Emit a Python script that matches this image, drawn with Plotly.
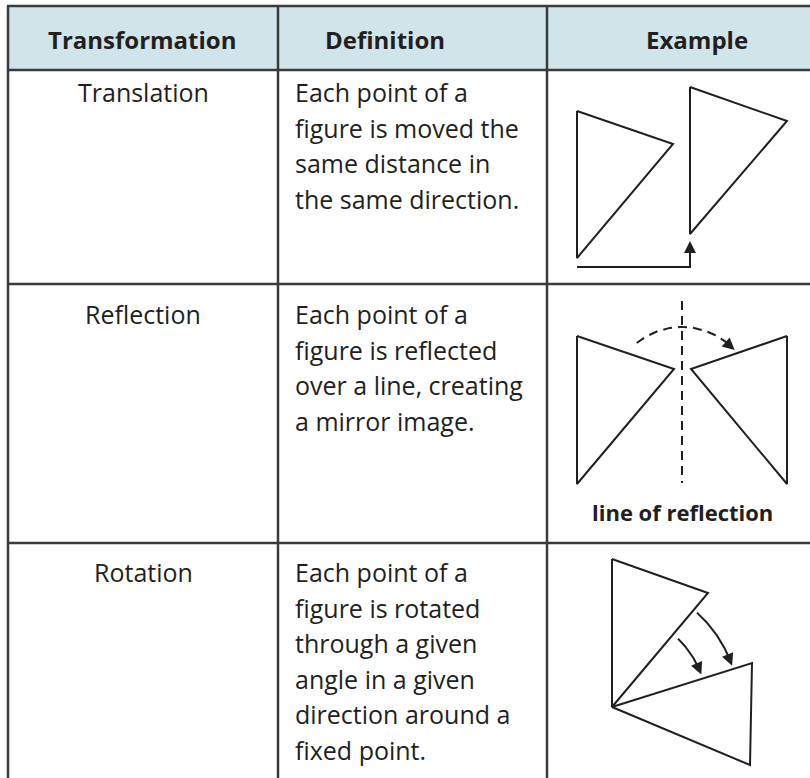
import numpy as np
import plotly.graph_objects as go

# ---- table content ----
headers = ["Transformation", "Definition", "Example"]
header_x = [142, 385, 697]
names = ["Translation", "Reflection", "Rotation"]
definitions = [
    ["Each point of a", "figure is moved the", "same distance in", "the same direction."],
    ["Each point of a", "figure is reflected", "over a line, creating", "a mirror image."],
    ["Each point of a", "figure is rotated", "through a given", "angle in a given", "direction around a", "fixed point."],
]
col_lines = [8, 278, 547]
row_lines = [6, 70, 284, 543]
row_text_y = [92, 314, 572]
line_step = 35.6

# ---- example diagrams (vertex coordinates in page pixels) ----
trans_tri_a = [(577, 111), (673, 144), (577, 258)]
trans_tri_b = [(690, 87), (787, 121), (690, 234)]
trans_path = [(577, 267), (690, 267), (690, 246)]

refl_tri_a = [(577, 336), (674, 369), (577, 484)]
refl_tri_b = [(787, 336), (691, 369), (787, 484)]
refl_axis = [(682, 301), (682, 483)]
refl_arc = dict(cx=682, cy=399, r=72, a0=-129, a1=-47)
refl_label = "line of reflection"

rot_tri_a = [(612, 559), (708, 593), (612, 707)]
rot_tri_b = [(612, 707), (752, 663), (750, 765)]
rot_arcs = [dict(cx=612, cy=707, r=127, a0=-48, a1=-22),
            dict(cx=612, cy=707, r=95, a0=-46, a1=-23)]

INK = "#231f20"
GRID = "#3a3a3a"
FONT = "Open Sans"
BODY_SIZE = 25
HEAD_SIZE = 24

fig = go.Figure()

def poly(pts, closed=True, dash=None, width=2):
    xs = [p[0] for p in pts]
    ys = [p[1] for p in pts]
    if closed:
        xs.append(xs[0]); ys.append(ys[0])
    fig.add_trace(go.Scatter(x=xs, y=ys, mode="lines",
                             line=dict(color=INK, width=width, dash=dash),
                             hoverinfo="skip", showlegend=False))

def arc_pts(a):
    t = np.radians(np.linspace(a["a0"], a["a1"], 60))
    return list(zip(a["cx"] + a["r"] * np.cos(t), a["cy"] + a["r"] * np.sin(t)))

def head(tip, frm):
    fig.add_annotation(x=tip[0], y=tip[1], ax=frm[0], ay=frm[1],
                       xref="x", yref="y", axref="x", ayref="y",
                       text="", showarrow=True, arrowhead=2, arrowsize=1.2,
                       arrowwidth=2, arrowcolor=INK, standoff=0)

# header background
fig.add_shape(type="rect", x0=col_lines[0], x1=820, y0=row_lines[0], y1=row_lines[1],
              fillcolor="#cfe5ea", line=dict(width=0), layer="below")

# grid
for y in row_lines:
    fig.add_shape(type="line", x0=col_lines[0] - 1, x1=820, y0=y, y1=y,
                  line=dict(color=GRID, width=2.5))
for x in col_lines:
    fig.add_shape(type="line", x0=x, x1=x, y0=row_lines[0], y1=790,
                  line=dict(color=GRID, width=2.5))

# header text
for h, hx in zip(headers, header_x):
    fig.add_annotation(x=hx, y=(row_lines[0] + row_lines[1]) / 2 + 1, text="<b>%s</b>" % h,
                       showarrow=False, xanchor="center", yanchor="middle",
                       font=dict(family=FONT, size=HEAD_SIZE, color=INK))

# body text
for i, (nm, lines) in enumerate(zip(names, definitions)):
    y0 = row_text_y[i]
    fig.add_annotation(x=(col_lines[0] + col_lines[1]) / 2, y=y0, text=nm, showarrow=False,
                       xanchor="center", yanchor="middle",
                       font=dict(family=FONT, size=BODY_SIZE, color=INK))
    for j, ln in enumerate(lines):
        fig.add_annotation(x=col_lines[1] + 15, y=y0 + j * line_step, text=ln, showarrow=False,
                           xanchor="left", yanchor="middle",
                           font=dict(family=FONT, size=BODY_SIZE, color=INK))

# translation
poly(trans_tri_a); poly(trans_tri_b)
poly(trans_path, closed=False)
head((690, 241), (690, 252))

# reflection
poly(refl_tri_a); poly(refl_tri_b)
poly(refl_axis, closed=False, dash="9px,6px")
ra = arc_pts(refl_arc)
poly(ra, closed=False, dash="9px,6px")
t1 = np.radians(refl_arc["a1"] + 4)
head((refl_arc["cx"] + refl_arc["r"] * np.cos(t1), refl_arc["cy"] + refl_arc["r"] * np.sin(t1)), ra[-6])
fig.add_annotation(x=682, y=512, text="<b>%s</b>" % refl_label, showarrow=False,
                   xanchor="center", yanchor="middle",
                   font=dict(family=FONT, size=22, color=INK))

# rotation
poly(rot_tri_a); poly(rot_tri_b)
for a in rot_arcs:
    pts = arc_pts(a)
    poly(pts, closed=False)
    t1 = np.radians(a["a1"] + 3)
    head((a["cx"] + a["r"] * np.cos(t1), a["cy"] + a["r"] * np.sin(t1)), pts[-8])

fig.update_layout(width=810, height=778, margin=dict(l=0, r=0, t=0, b=0),
                  paper_bgcolor="white", plot_bgcolor="white",
                  xaxis=dict(range=[0, 810], visible=False, fixedrange=True),
                  yaxis=dict(range=[778, 0], visible=False, fixedrange=True))
fig.write_html("out.html", config={"displayModeBar": False},
               post_script="document.body.style.margin='0';document.body.style.overflow='hidden';")
